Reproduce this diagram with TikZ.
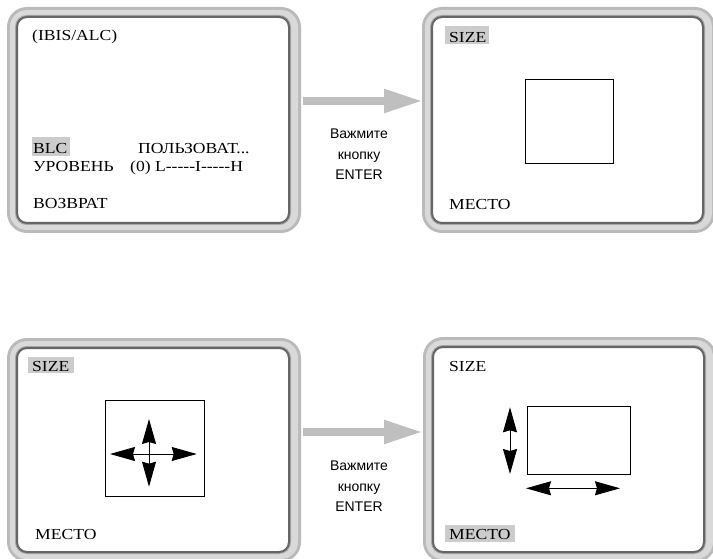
\documentclass[tikz,border=0pt]{standalone}
\usepackage{fontspec}
\setmainfont{Liberation Serif}
\newfontfamily\osd[FakeStretch=1.15,Ligatures=TeXOff]{Liberation Serif}
\newfontfamily\lab{Liberation Sans}
\usetikzlibrary{arrows.meta}
\tikzset{
  osdtext/.style={anchor=base west, inner sep=0pt, font=\osd\fontsize{15.3}{18}\selectfont, text=black},
  hl/.style={fill=black!20},
  note/.style={anchor=base, inner sep=0pt, font=\lab\fontsize{14}{16}\selectfont},
  bigarrow/.style={line width=8pt, draw=black!25, -{Triangle[length=39pt,width=22pt]}},
  dblarrow/.style={line width=1pt, {Stealth[length=25pt,width=14pt,inset=2pt]}-{Stealth[length=25pt,width=14pt,inset=2pt]}},
  framebox/.style={draw=black, line width=1pt}
}
% inner line corners: #1 x1, #2 y1, #3 x2, #4 y2
\newcommand\osdpanel[4]{%
  \fill[black!27,rounded corners=20pt] (#1-10,#2-10) rectangle (#3+12,#4+10);
  \fill[black!15,rounded corners=17pt] (#1-7,#2-7) rectangle (#3+9,#4+7);
  \draw[black!35,line width=4pt,rounded corners=10pt] (#1,#2) rectangle (#3,#4);
  \draw[black!60,line width=2pt,fill=white,rounded corners=10pt] (#1,#2) rectangle (#3,#4);
}
\begin{document}
\begin{tikzpicture}[x=1pt,y=-1pt]
\useasboundingbox (0,0) rectangle (713,559);
\clip (0,0) rectangle (713,559);

% ---------- panels ----------
\osdpanel{17}{17}{289}{223}
\osdpanel{432}{17}{703}{223}
\osdpanel{17}{348}{289}{552}
\osdpanel{433}{347}{704}{552}

% ---------- panel 1 ----------
\fill[hl] (31.7,136.7) rectangle (70,155.7);
\node[osdtext] (ibis) at (32,41) {(IBIS/ALC)};
\node[osdtext] (blc) at (33,154) {BLC};
\node[osdtext] (polz) at (138,154) {ПОЛЬЗОВАТ...};
\node[osdtext] (urov) at (33,171.7) {УРОВЕНЬ};
\node[osdtext] (scale) at (130,171.7) {(0) L-----I-----H};
\node[osdtext] (vozv) at (33,209) {ВОЗВРАТ};

% ---------- arrow 1 ----------
\coordinate (a1s) at (303,101);
\coordinate (a1e) at (423,101);
\draw[bigarrow] (a1s) -- (a1e);
\node[note] (n1a) at (359,139) {Важмите};
\node[note] (n1b) at (359,160) {кнопку};
\node[note] (n1c) at (359,180) {ENTER};

% ---------- panel 2 ----------
\fill[hl] (445,26) rectangle (489,44.3);
\node[osdtext] (size2) at (449,42.3) {SIZE};
\node[osdtext] (mesto2) at (449,209.3) {МЕСТО};
\draw[framebox] (525,80) rectangle (613.7,164);

% ---------- panel 3 ----------
\fill[hl] (28,357) rectangle (74,373.3);
\node[osdtext] (size3) at (32,371.7) {SIZE};
\node[osdtext] (mesto3) at (35,539) {МЕСТО};
\draw[framebox] (105,400) rectangle (204,496.7);
\coordinate (c3l) at (110,454);
\coordinate (c3r) at (196.7,454);
\coordinate (c3t) at (149,419);
\coordinate (c3b) at (149,486.7);
\draw[dblarrow] (c3l) -- (c3r);
\draw[dblarrow] (c3t) -- (c3b);

% ---------- arrow 2 ----------
\coordinate (a2s) at (303,432);
\coordinate (a2e) at (423,432);
\draw[bigarrow] (a2s) -- (a2e);
\node[note] (n2a) at (359,470) {Важмите};
\node[note] (n2b) at (359,491) {кнопку};
\node[note] (n2c) at (359,511) {ENTER};

% ---------- panel 4 ----------
\fill[hl] (445,525) rectangle (515,541.7);
\node[osdtext] (size4) at (449,371.7) {SIZE};
\node[osdtext] (mesto4) at (449,539) {МЕСТО};
\draw[framebox] (527.3,406) rectangle (630,474);
\coordinate (c4t) at (510,407.3);
\coordinate (c4b) at (510,474);
\coordinate (c4l) at (526,488.3);
\coordinate (c4r) at (620,488.3);
\draw[dblarrow] (c4t) -- (c4b);
\draw[dblarrow] (c4l) -- (c4r);
\end{tikzpicture}
\end{document}
